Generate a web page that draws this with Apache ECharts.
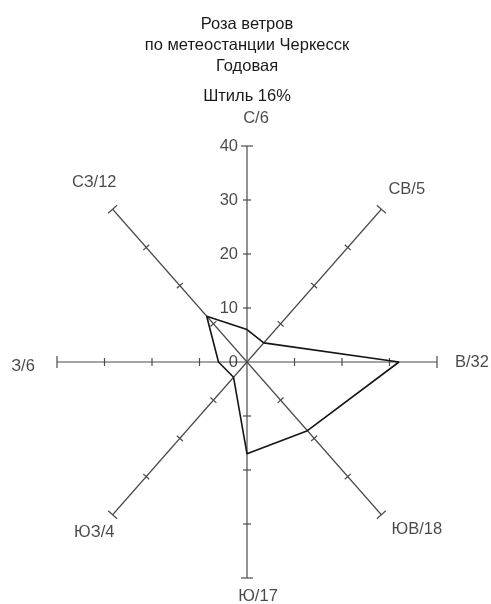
<!DOCTYPE html>
<html lang="ru">
<head>
<meta charset="UTF-8">
<title>Роза ветров</title>
<script src="https://cdn.jsdelivr.net/npm/echarts@6/dist/echarts.min.js"></script>
<style>html,body{margin:0;background:#fff}#chart{width:491px;height:604px}</style>
</head>
<body>
<div id="chart"></div>
<script>
// румбы, углы (градусы от востока), повторяемость ветра %
const directions = ['С', 'СВ', 'В', 'ЮВ', 'Ю', 'ЮЗ', 'З', 'СЗ'];
const angles = [90, 45, 0, -45, -90, -135, 180, 135];
const windValues = [6, 5, 32, 18, 17, 4, 6, 12];
const tickValues = [0, 10, 20, 30, 40];
const calmLabel = 'Штиль 16%';
const titleText = 'Роза ветров\nпо метеостанции Черкесск\nГодовая';

const FONT = "'Liberation Sans', Arial, sans-serif";
const labelR = 44;
const labelOffsets = [[9, -6], [12, -5], [16, 0], [22, -1], [11, -3], [-5, 2], [-15, 4], [-5, -12]];

const rad = d => d * Math.PI / 180;
const toXY = (r, a) => [r * Math.cos(rad(a)), r * Math.sin(rad(a))];

function renderAxis(params, api) {
    const a = api.value(0);
    const o = api.coord([0, 0]);
    const end = api.coord(toXY(40, a));
    const len = Math.hypot(end[0] - o[0], end[1] - o[1]);
    const px = -(end[1] - o[1]) / len, py = (end[0] - o[0]) / len;
    const st = {stroke: '#4a4a4a', lineWidth: 1.2};
    const children = [{type: 'line', shape: {x1: o[0], y1: o[1], x2: end[0], y2: end[1]}, style: st}];
    tickValues.slice(1).forEach(t => {
        const p = api.coord(toXY(t, a));
        const h = t === 40 ? 6 : 4;
        children.push({type: 'line', shape: {x1: p[0] - px * h, y1: p[1] - py * h, x2: p[0] + px * h, y2: p[1] + py * h}, style: st});
    });
    return {type: 'group', children};
}

const rose = windValues.map((v, i) => toXY(v, angles[i]));
rose.push(rose[0]);

const chart = echarts.init(document.getElementById('chart'));
chart.setOption({
    animation: false,
    textStyle: {fontFamily: FONT},
    title: [
        {text: titleText, left: 242, textAlign: 'center', top: 9,
         textStyle: {fontFamily: FONT, fontSize: 16.5, fontWeight: 'normal', color: '#1a1a1a', lineHeight: 21}},
        {text: calmLabel, left: 242, textAlign: 'center', top: 83,
         textStyle: {fontFamily: FONT, fontSize: 16.5, fontWeight: 'normal', color: '#1a1a1a'}}
    ],
    grid: {left: 57, top: 146, width: 380, height: 432},
    xAxis: {type: 'value', min: -40, max: 40, show: false},
    yAxis: {type: 'value', min: -40, max: 40, show: false},
    series: [
        {
            type: 'custom',
            renderItem: renderAxis,
            data: angles.map(a => [a, 0]),
            silent: true,
            clip: false,
            z: 1
        },
        {
            type: 'scatter',
            symbolSize: 0,
            clip: false,
            data: tickValues.map(v => [0, v]),
            label: {show: true, position: 'left', distance: 9, formatter: p => p.value[1],
                    fontFamily: FONT, fontSize: 16.5, color: '#1a1a1a'},
            z: 2
        },
        {
            type: 'scatter',
            symbolSize: 0,
            clip: false,
            data: directions.map((d, i) => ({
                value: toXY(labelR, angles[i]),
                label: {offset: labelOffsets[i]},
                name: d + '/' + windValues[i]
            })),
            label: {show: true, position: 'inside', formatter: p => p.name,
                    fontFamily: FONT, fontSize: 16.5, color: '#1a1a1a'},
            z: 2
        },
        {
            type: 'line',
            data: rose,
            symbol: 'none',
            clip: false,
            lineStyle: {color: '#151515', width: 1.6},
            z: 3
        }
    ]
});
</script>
</body>
</html>
